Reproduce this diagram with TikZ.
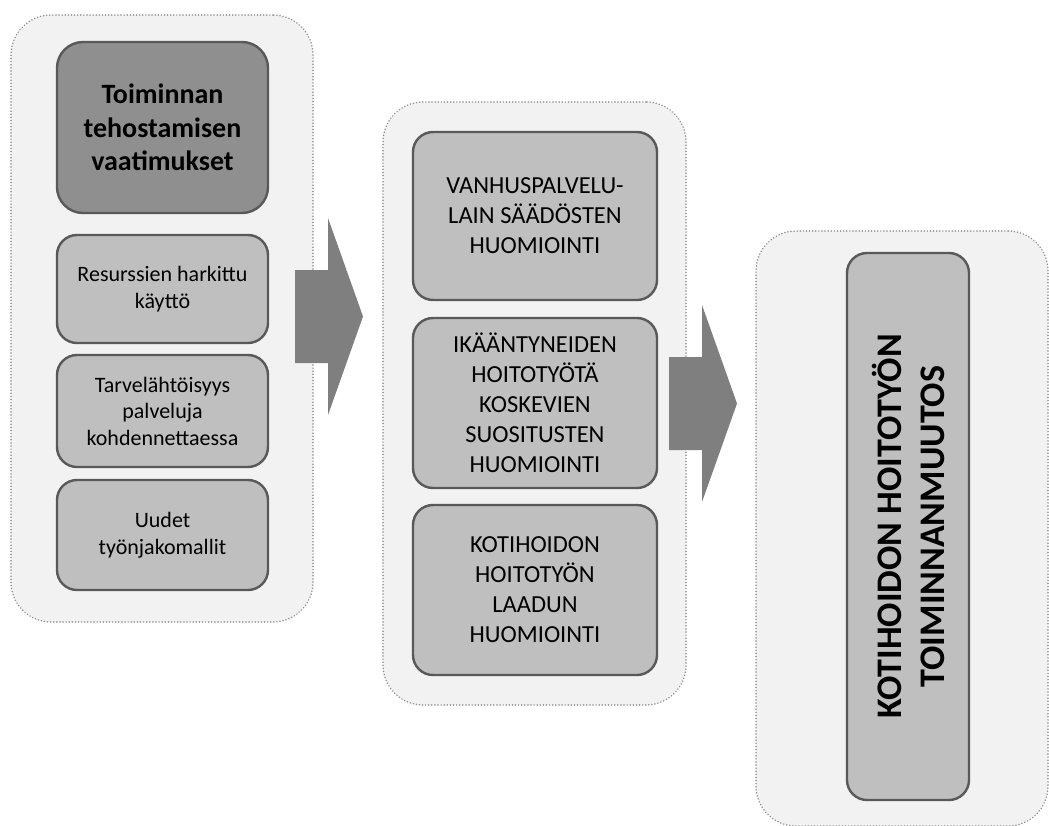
\documentclass[tikz,border=0pt]{standalone}
\usepackage{fontspec}
\setmainfont{Carlito}
\definecolor{panelfill}{HTML}{F2F2F2}
\definecolor{panelline}{HTML}{8C8C8C}
\definecolor{headfill}{HTML}{8F8F8F}
\definecolor{boxfill}{HTML}{BFBFBF}
\definecolor{boxline}{HTML}{595959}
\definecolor{arrowfill}{HTML}{7F7F7F}
\begin{document}
\begin{tikzpicture}[x=1pt,y=-1pt,
  panel/.style={draw=panelline, fill=panelfill, line width=1.6pt,
    dash pattern=on 0.1pt off 3pt, line cap=round,
    rounded corners=40pt, inner sep=0pt},
  item/.style={draw=boxline, fill=boxfill, line width=2.4pt,
    rounded corners=20pt, inner sep=0pt, align=center, text=black},
  headbox/.style={item, fill=headfill, rounded corners=26pt,
    font=\fontsize{28}{33.5}\selectfont\bfseries},
  smallbox/.style={item, minimum width=211pt,
    font=\fontsize{22}{26.5}\selectfont},
  midbox/.style={item, minimum width=244pt, minimum height=170pt,
    font=\fontsize{24.5}{30}\selectfont},
  blockarrow/.style={fill=arrowfill}]
\useasboundingbox (0,0) rectangle (1049,825);
\clip (0,0) rectangle (1049,825);

% three stage panels
\node[panel, minimum width=302pt, minimum height=607pt] (left) at (162,318.5) {};
\node[panel, minimum width=303pt, minimum height=603pt] (mid) at (534.5,403.5) {};
\node[panel, minimum width=292pt, minimum height=595pt] (right) at (902,528.5) {};

% first stage
\node[headbox, minimum width=211pt, minimum height=171pt] (req) at (162.5,127.5)
  {Toiminnan\\tehostamisen\\vaatimukset};
\node[smallbox, minimum height=108pt] (res) at (162.5,289) {Resurssien harkittu\\käyttö};
\node[smallbox, minimum height=112pt] (need) at (162.5,411) {Tarvelähtöisyys\\palveluja\\kohdennettaessa};
\node[smallbox, minimum height=110pt] (work) at (162.5,535) {Uudet\\työnjakomallit};

% second stage
\node[midbox, minimum height=168pt] (law) at (535,216) {VANHUSPALVELU-\\LAIN SÄÄDÖSTEN\\HUOMIOINTI};
\node[midbox] (rec) at (535,403) {IKÄÄNTYNEIDEN\\HOITOTYÖTÄ\\KOSKEVIEN\\SUOSITUSTEN\\HUOMIOINTI};
\node[midbox] (qual) at (535,590) {KOTIHOIDON\\HOITOTYÖN\\LAADUN\\HUOMIOINTI};

% third stage
\node[item, minimum width=122pt, minimum height=547pt] (change) at (908,526.5) {};
\node[rotate=90, align=center, font=\fontsize{36}{43}\selectfont\bfseries]
  (changetext) at (change.center) {KOTIHOIDON HOITOTYÖN\\TOIMINNANMUUTOS};

% block arrows between the stages
\coordinate (a1) at (295,316.5);
\coordinate (a2) at (669,403.5);
\fill[blockarrow] (a1) ++(0,-46.5) -- ++(33,0) -- ++(0,-52) -- ++(35,98.5)
  -- ++(-35,98.5) -- ++(0,-52) -- ++(-33,0) -- cycle;
\fill[blockarrow] (a2) ++(0,-46.5) -- ++(33,0) -- ++(0,-52) -- ++(35,98.5)
  -- ++(-35,98.5) -- ++(0,-52) -- ++(-33,0) -- cycle;
\end{tikzpicture}
\end{document}
